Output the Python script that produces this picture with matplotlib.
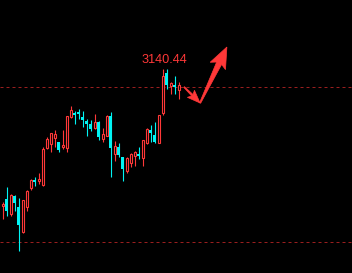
import numpy as np
import matplotlib
matplotlib.use("Agg")
import matplotlib.pyplot as plt
from matplotlib.patches import Polygon

# daily candles (open, high, low, close)
opens = [3003, 3010, 2995, 3013, 3002, 2977, 3002, 3021, 3029, 3028,
         3024, 3061, 3065, 3071, 3067, 3062, 3061, 3092, 3096, 3097,
         3092, 3088, 3085, 3081, 3087, 3070, 3073, 3093, 3055, 3062,
         3052, 3038, 3046, 3053, 3055, 3051, 3066, 3079, 3074, 3066,
         3096, 3136, 3123, 3124, 3119]
highs = [3007, 3022, 3015, 3014, 3011, 3009, 3019, 3030, 3032, 3036,
         3062, 3072, 3076, 3079, 3067, 3079, 3093, 3103, 3098, 3100,
         3098, 3090, 3089, 3095, 3088, 3081, 3094, 3097, 3068, 3066,
         3052, 3052, 3056, 3058, 3062, 3069, 3081, 3084, 3087, 3094,
         3140, 3140.44, 3127, 3133, 3127]
lows = [2990, 2993, 2993, 2998, 2958, 2976, 2998, 3019, 3023, 3025,
        3023, 3060, 3057, 3062, 3057, 3060, 3057, 3091, 3085, 3090,
        3082, 3073, 3078, 3080, 3069, 3067, 3073, 3032, 3048, 3052,
        3028, 3036, 3042, 3043, 3050, 3043, 3065, 3067, 3066, 3066,
        3094, 3120, 3115, 3115, 3110]
closes = [3005, 2998, 3014, 3006, 2984, 3009, 3018, 3029, 3027, 3030,
          3060, 3070, 3076, 3075, 3059, 3064, 3093, 3099, 3094, 3095,
          3089, 3085, 3080, 3087, 3072, 3075, 3093, 3061, 3063, 3054,
          3040, 3051, 3055, 3057, 3053, 3069, 3080, 3076, 3067, 3094,
          3133, 3124, 3126, 3122, 3124]

levels = [3122, 2967]

# arrow waypoints (candle index, price)
arrow1 = [(45.4, 3122), (49.4, 3106)]
arrow2 = [(49.4, 3106), (56.1, 3162)]

UP = "#ff3838"
DOWN = "#00f4f4"
LEVEL = "#9a1e1e"

fig = plt.figure(figsize=(3.52, 2.73), dpi=100, facecolor="black")
ax = fig.add_axes([0, 0, 1, 1])
ax.set_facecolor("black")
ax.set_xlim(-0.625, 87.375)
ax.set_ylim(2936, 3209)
ax.axis("off")

for lv in levels:
    ax.axhline(lv, color=LEVEL, lw=0.72, ls=(0, (3, 3)), zorder=1)

x = np.arange(len(opens))
for i in x:
    o, h, l, c = opens[i], highs[i], lows[i], closes[i]
    up = c >= o
    col = UP if up else DOWN
    ax.vlines(i, l, h, color=col, lw=0.8, zorder=2)
    lo, hi = min(o, c), max(o, c)
    if up:
        ax.bar(i, max(hi - lo, 0.5), bottom=lo, width=0.5, facecolor="black",
               edgecolor=col, lw=0.8, zorder=3)
    else:
        ax.bar(i, max(hi - lo, 1), bottom=lo, width=0.75, color=col,
               lw=0, zorder=3)

imax = int(np.argmax(highs))
ax.text(imax - 0.4, highs[imax] + 6, f"{highs[imax]:.2f}", color=UP,
        fontsize=9.2, family="Liberation Sans", ha="center", va="baseline")


def arrow_poly(p0, p1, w0, w1, head_len, head_w, barb):
    # tapered arrow with swept-back barbs, built in display space (pixels)
    s = ax.transData.transform(p0)
    t = ax.transData.transform(p1)
    d = t - s
    u = d / np.hypot(*d)
    n = np.array([-u[1], u[0]])
    b = t - u * head_len
    pts = [s + n * w0 / 2, b + n * w1 / 2, b - u * barb + n * head_w, t,
           b - u * barb - n * head_w, b - n * w1 / 2, s - n * w0 / 2]
    return Polygon(pts, closed=True, transform=None, facecolor=UP,
                   edgecolor=UP, lw=0.5, zorder=4)


ax.add_patch(arrow_poly(arrow1[0], arrow1[1], 1.0, 2.0, 11, 5, 2))
ax.add_patch(arrow_poly(arrow2[0], arrow2[1], 1.2, 5.5, 18, 8.5, 3))

fig.savefig("out.png", dpi=100, facecolor="black")
